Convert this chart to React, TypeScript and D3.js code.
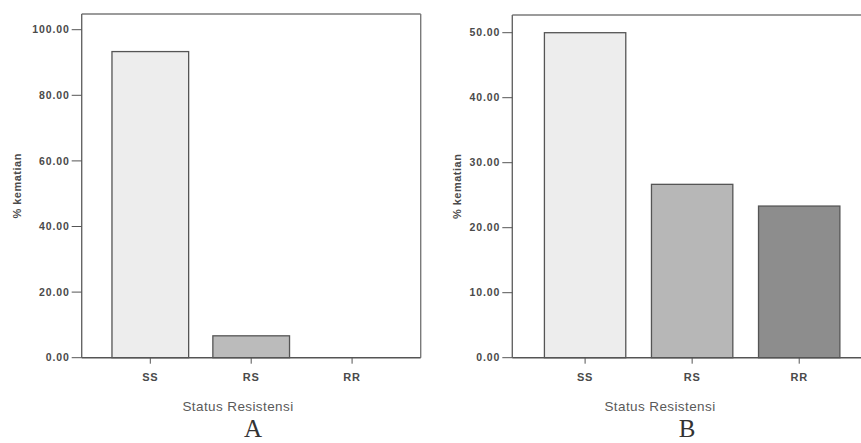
import React from "react";
import * as d3 from "d3";

const categories = ["SS", "RS", "RR"];
const valuesA = [93.33, 6.67, 0];
const valuesB = [50.0, 26.67, 23.33];
const ticksA = [0, 20, 40, 60, 80, 100];
const ticksB = [0, 10, 20, 30, 40, 50];
const fills = ["#ededed", "#b7b7b7", "#8d8d8d"];
const xTitle = "Status Resistensi";
const yTitle = "% kematian";

type PanelProps = {
  values: number[];
  ticks: number[];
  yMax: number;
  left: number;
  right: number;
  top: number;
  bottom: number;
  yTop: number;
  letter: string;
  letterX: number;
  titleX: number;
  yTitleX: number;
  showRight: boolean;
  fillsUsed: string[];
};

function Panel(p: PanelProps) {
  const y = d3.scaleLinear().domain([0, p.yMax]).range([p.bottom, p.yTop]);
  const x = d3.scalePoint<string>().domain(categories).range([p.left, p.right]).padding(0.68);
  const step = x.step();
  const bw = step * 0.76;
  const font = "'Liberation Sans', Arial, sans-serif";
  return (
    <g>
      <line x1={p.left} x2={p.right} y1={p.top} y2={p.top} stroke="#7a7a7a" strokeWidth={1.4} />
      <line x1={p.left} x2={p.left} y1={p.top} y2={p.bottom} stroke="#666" strokeWidth={1.4} />
      {p.showRight && (
        <line x1={p.right} x2={p.right} y1={p.top} y2={p.bottom} stroke="#7a7a7a" strokeWidth={1.4} />
      )}
      {p.values.map((v, i) =>
        v > 0 ? (
          <rect
            key={i}
            x={(x(categories[i]) as number) - bw / 2}
            y={y(v)}
            width={bw}
            height={p.bottom - y(v)}
            fill={p.fillsUsed[i]}
            stroke="#555"
            strokeWidth={1.3}
          />
        ) : null
      )}
      <line x1={p.left} x2={p.right} y1={p.bottom} y2={p.bottom} stroke="#555" strokeWidth={1.4} />
      {p.ticks.map((t) => (
        <g key={t}>
          <line x1={p.left - 10} x2={p.left} y1={y(t)} y2={y(t)} stroke="#555" strokeWidth={1} />
          <text
            x={p.left - 12}
            y={y(t)}
            dy="0.35em"
            textAnchor="end"
            fontSize={10.5}
            fontWeight="bold"
            letterSpacing={0.9}
            fontFamily={font}
            fill="#4a4a4a"
          >
            {t.toFixed(2)}
          </text>
        </g>
      ))}
      {categories.map((c) => (
        <g key={c}>
          <line x1={x(c)} x2={x(c)} y1={p.bottom} y2={p.bottom + 6} stroke="#555" strokeWidth={1} />
          <text
            x={x(c)}
            y={p.bottom + 19}
            dy="0.35em"
            textAnchor="middle"
            fontSize={11}
            fontWeight="bold"
            letterSpacing={0.8}
            fontFamily={font}
            fill="#4a4a4a"
          >
            {c}
          </text>
        </g>
      ))}
      <text
        x={p.titleX}
        y={406}
        dy="0.35em"
        textAnchor="middle"
        fontSize={13.5}
        letterSpacing={0.4}
        fontFamily={font}
        fill="#5a5a5a"
      >
        {xTitle}
      </text>
      <text
        transform={`translate(${p.yTitleX},${(p.top + p.bottom) / 2}) rotate(-90)`}
        dy="0.35em"
        textAnchor="middle"
        fontSize={11}
        fontWeight="bold"
        letterSpacing={0.5}
        fontFamily={font}
        fill="#4a4a4a"
      >
        {yTitle}
      </text>
      <text
        x={p.letterX}
        y={437}
        textAnchor="middle"
        fontSize={25}
        fontFamily="'Liberation Serif', 'DejaVu Serif', serif"
        fill="#333"
      >
        {p.letter}
      </text>
    </g>
  );
}

export default function App() {
  return (
    <svg
      width={861}
      height={443}
      style={{ position: "absolute", left: 0, top: 0, background: "#fff" }}
    >
      <rect width={861} height={443} fill="#fff" />
      <Panel
        values={valuesA}
        ticks={ticksA}
        yMax={100}
        left={81.7}
        right={420.7}
        top={14}
        bottom={357.7}
        yTop={29.7}
        letter="A"
        letterX={253}
        titleX={238}
        yTitleX={16.7}
        showRight={true}
        fillsUsed={[fills[0], "#bbbbbb", fills[2]]}
      />
      <Panel
        values={valuesB}
        ticks={ticksB}
        yMax={50}
        left={512.3}
        right={872}
        top={15}
        bottom={357.7}
        yTop={32.7}
        letter="B"
        letterX={687}
        titleX={660}
        yTitleX={456.7}
        showRight={false}
        fillsUsed={fills}
      />
    </svg>
  );
}
